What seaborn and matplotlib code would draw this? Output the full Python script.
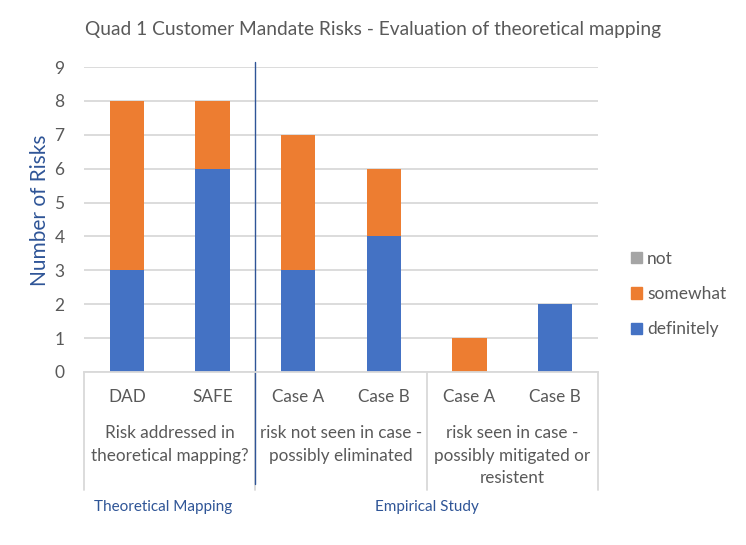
import numpy as np
import pandas as pd
import matplotlib
matplotlib.use('Agg')
import matplotlib.pyplot as plt
import seaborn as sns
from matplotlib.patches import Patch
from matplotlib.lines import Line2D

# --- data ---
bar_keys = ['DAD', 'SAFE', 'A_notseen', 'B_notseen', 'A_seen', 'B_seen']
tick_labels = ['DAD', 'SAFE', 'Case A', 'Case B', 'Case A', 'Case B']
definitely = [3, 6, 3, 4, 0, 2]
somewhat = [5, 2, 4, 2, 1, 0]
not_at_all = [0, 0, 0, 0, 0, 0]

group_labels = ['Risk addressed in\ntheoretical mapping?',
                'risk not seen in case -\npossibly eliminated',
                'risk seen in case -\npossibly mitigated or\nresistent']
group_spans = [(0, 1), (2, 3), (4, 5)]
study_labels = ['Theoretical Mapping', 'Empirical Study']
study_spans = [(0, 1), (2, 5)]

BLUE = '#4472C4'
ORANGE = '#ED7D31'
GREY = '#A5A5A5'
TXT = '#595959'
NAVY = '#2F5597'
GRID = '#D9D9D9'

df = pd.DataFrame({'key': bar_keys, 'definitely': definitely,
                   'somewhat': somewhat, 'not': not_at_all})
df['top_somewhat'] = df['definitely'] + df['somewhat']
df['top_not'] = df['top_somewhat'] + df['not']

sns.set_theme(style='white')
plt.rcParams['font.family'] = ['Lato', 'DejaVu Sans']

W, H = 746, 545
fig = plt.figure(figsize=(W / 100, H / 100), dpi=100)
L, R, T, B = 84, 598, 67, 372
ax = fig.add_axes([L / W, 1 - B / H, (R - L) / W, (B - T) / H])

# stacked bars: draw cumulative totals, largest first
for col, c in [('top_not', GREY), ('top_somewhat', ORANGE), ('definitely', BLUE)]:
    sns.barplot(data=df, x='key', y=col, color=c, width=0.4, saturation=1,
                ax=ax, order=bar_keys, linewidth=0, edgecolor='none')

ax.set_ylim(0, 9)
ax.set_xlim(-0.5, 5.5)
ax.set_yticks(range(10))
ax.yaxis.grid(True, color=GRID, lw=1.3)
ax.set_axisbelow(True)
for s in ['top', 'right', 'left']:
    ax.spines[s].set_visible(False)
ax.spines['bottom'].set_color(GRID)
ax.spines['bottom'].set_linewidth(1.3)
ax.tick_params(axis='y', length=0, labelsize=12.5, labelcolor=TXT, pad=14)
ax.set_xticks([])
ax.set_xlabel('')
ax.set_ylabel('')

ph = B - T  # pixel height of axes
def ya(ypix):
    return (B - ypix) / ph

tr = ax.get_xaxis_transform()

# first level labels
for i, lab in enumerate(tick_labels):
    ax.text(i, ya(397), lab, transform=tr, ha='center', va='center',
            fontsize=12.3, color=TXT)

# second level labels
for lab, (a, b) in zip(group_labels, group_spans):
    ax.text((a + b) / 2, ya(425), lab, transform=tr, ha='center', va='top',
            fontsize=12.3, color=TXT, linespacing=1.5)

# separator lines of the category axis
for xs in [-0.5, 1.5, 3.5, 5.5]:
    ax.add_line(Line2D([xs, xs], [0, ya(490)], transform=tr, color=GRID,
                       lw=1.3, clip_on=False))

# vertical divider between theoretical and empirical parts
ax.add_line(Line2D([1.5, 1.5], [ya(62), ya(484)], transform=tr, color=NAVY,
                   lw=1, clip_on=False))

# third level labels
for lab, (a, b) in zip(study_labels, study_spans):
    ax.text((a + b) / 2 - (0.08 if a == 0 else 0), ya(507), lab, transform=tr,
            ha='center', va='center', fontsize=11, color=NAVY)

fig.text(40 / W, 1 - 210 / H, 'Number of Risks', rotation=90, ha='center',
         va='center', fontsize=15, color=NAVY)

fig.text(373 / W, 1 - 30 / H,
         'Quad 1 Customer Mandate Risks - Evaluation of theoretical mapping',
         ha='center', va='center', fontsize=13.8, color=TXT)

handles = [Patch(color=GREY, label='not'),
           Patch(color=ORANGE, label='somewhat'),
           Patch(color=BLUE, label='definitely')]
fig.legend(handles=handles, loc='center left',
           bbox_to_anchor=(615 / W, 1 - 294 / H), frameon=False,
           fontsize=12.5, labelcolor=TXT, handlelength=0.65, handleheight=0.65,
           handletextpad=0.3, labelspacing=1.12)

fig.savefig('out.png', dpi=100)
